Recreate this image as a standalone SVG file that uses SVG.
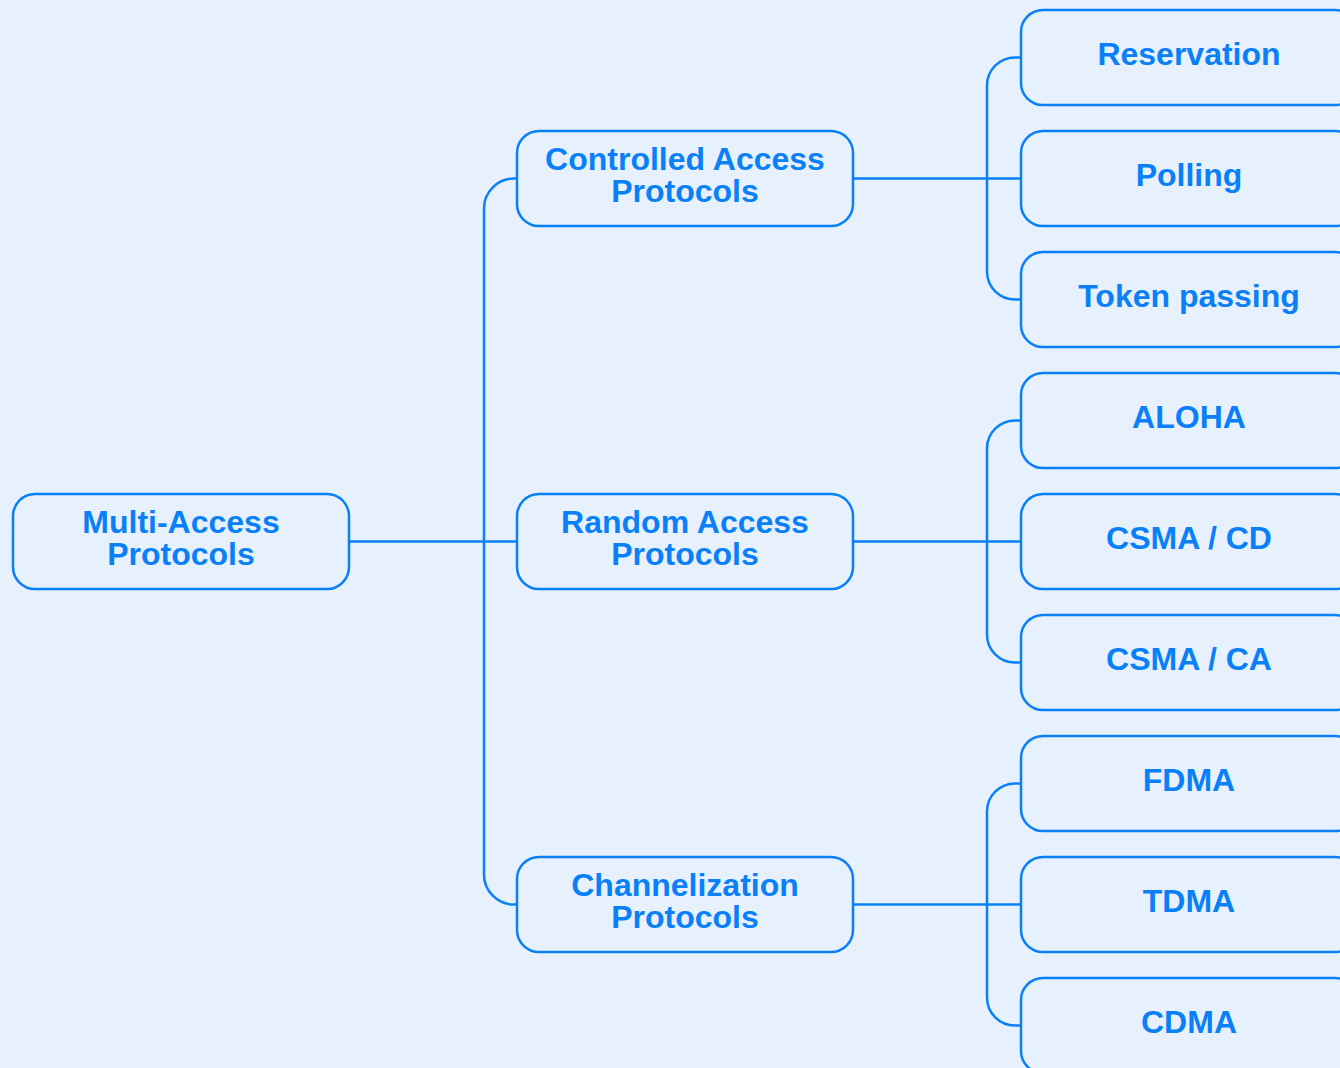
<svg xmlns="http://www.w3.org/2000/svg" width="1340" height="1068" viewBox="0 0 1340 1068">
<style>
.node rect{fill:#e7f1fd;stroke:#0a80f8;stroke-width:2.5}
.node text{fill:#0a80f8;font-family:"Liberation Sans",Arial,sans-serif;font-weight:bold;font-size:32px;text-anchor:middle}
#connectors path{fill:none;stroke:#0a80f8;stroke-width:2.5}
</style>
<rect x="0" y="0" width="1340" height="1068" fill="#e7f1fd"/>
<g id="connectors">
<path d="M349 541.5 H517"/>
<path d="M517 178.5 H514 A30 30 0 0 0 484 208.5 V874.5 A30 30 0 0 0 514 904.5 H517"/>
<path d="M853 178.5 H1021"/>
<path d="M853 541.5 H1021"/>
<path d="M853 904.5 H1021"/>
<path d="M1021 57.5 H1015 A28 28 0 0 0 987 85.5 V271.5 A28 28 0 0 0 1015 299.5 H1021"/>
<path d="M1021 420.5 H1015 A28 28 0 0 0 987 448.5 V634.5 A28 28 0 0 0 1015 662.5 H1021"/>
<path d="M1021 783.5 H1015 A28 28 0 0 0 987 811.5 V997.5 A28 28 0 0 0 1015 1025.5 H1021"/>
</g>
<g id="root" class="node"><rect x="13" y="494" width="336" height="95" rx="22"/><text x="181" y="533">Multi-Access<tspan x="181" dy="32">Protocols</tspan></text></g>
<g id="controlled" class="node"><rect x="517" y="131" width="336" height="95" rx="22"/><text x="685" y="170">Controlled Access<tspan x="685" dy="32">Protocols</tspan></text></g>
<g id="random" class="node"><rect x="517" y="494" width="336" height="95" rx="22"/><text x="685" y="533">Random Access<tspan x="685" dy="32">Protocols</tspan></text></g>
<g id="channelization" class="node"><rect x="517" y="857" width="336" height="95" rx="22"/><text x="685" y="896">Channelization<tspan x="685" dy="32">Protocols</tspan></text></g>
<g id="reservation" class="node"><rect x="1021" y="10" width="336" height="95" rx="22"/><text x="1189" y="65">Reservation</text></g>
<g id="polling" class="node"><rect x="1021" y="131" width="336" height="95" rx="22"/><text x="1189" y="186">Polling</text></g>
<g id="token" class="node"><rect x="1021" y="252" width="336" height="95" rx="22"/><text x="1189" y="307">Token passing</text></g>
<g id="aloha" class="node"><rect x="1021" y="373" width="336" height="95" rx="22"/><text x="1189" y="428">ALOHA</text></g>
<g id="csmacd" class="node"><rect x="1021" y="494" width="336" height="95" rx="22"/><text x="1189" y="549">CSMA / CD</text></g>
<g id="csmaca" class="node"><rect x="1021" y="615" width="336" height="95" rx="22"/><text x="1189" y="670">CSMA / CA</text></g>
<g id="fdma" class="node"><rect x="1021" y="736" width="336" height="95" rx="22"/><text x="1189" y="791">FDMA</text></g>
<g id="tdma" class="node"><rect x="1021" y="857" width="336" height="95" rx="22"/><text x="1189" y="912">TDMA</text></g>
<g id="cdma" class="node"><rect x="1021" y="978" width="336" height="95" rx="22"/><text x="1189" y="1033">CDMA</text></g>
</svg>
